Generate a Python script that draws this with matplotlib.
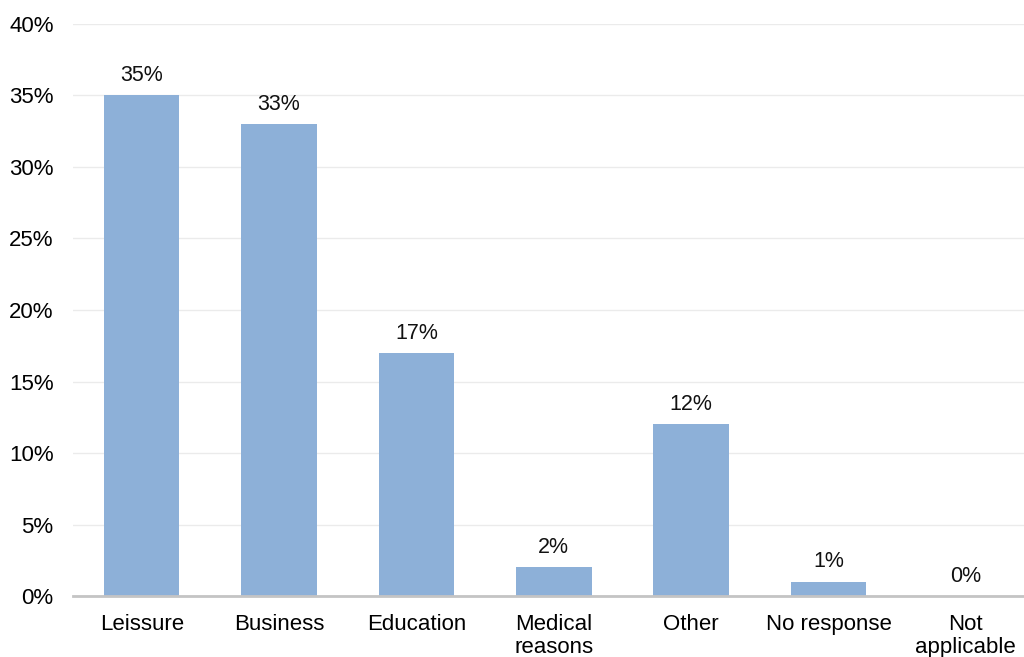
import matplotlib
matplotlib.use("Agg")
import matplotlib.pyplot as plt
from matplotlib.ticker import FuncFormatter

plt.rcParams["font.family"] = ["Liberation Sans", "DejaVu Sans"]

# Data
categories = ["Leissure", "Business", "Education", "Medical\nreasons",
              "Other", "No response", "Not\napplicable"]
shares = [35, 33, 17, 2, 12, 1, 0]

fig = plt.figure(figsize=(10.24, 6.57), dpi=100)
ax = fig.add_axes([0.0713, 0.0928, 0.939, 0.8707])

x = range(len(categories))
ax.bar(x, shares, width=0.55, color="#8db0d8", zorder=3)

for xi, v in zip(x, shares):
    ax.text(xi, v + 0.65, f"{v}%", ha="center", va="bottom",
            fontsize=15.5, color="#111111")

ax.set_xlim(-0.5, 6.5)
ax.set_ylim(0, 40)
ax.set_yticks(range(0, 41, 5))
ax.yaxis.set_major_formatter(FuncFormatter(lambda v, p: f"{int(v)}%"))
ax.set_xticks(list(x))
ax.set_xticklabels(categories, fontsize=16, linespacing=1.15)
ax.tick_params(axis="y", labelsize=16, length=0, pad=14)
ax.tick_params(axis="x", length=0, pad=13)

ax.grid(axis="y", color="#ebebeb", linewidth=1, zorder=0)
for s in ["top", "right", "left"]:
    ax.spines[s].set_visible(False)
ax.spines["bottom"].set_color("#c4c4c4")
ax.spines["bottom"].set_linewidth(2)
ax.spines["bottom"].set_zorder(4)

plt.savefig("out.png", dpi=100)
